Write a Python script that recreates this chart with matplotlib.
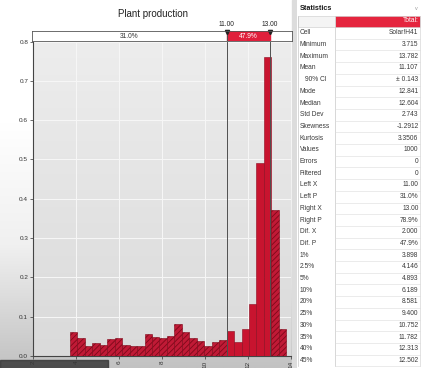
import numpy as np
import matplotlib
matplotlib.use("Agg")
import matplotlib.pyplot as plt
from matplotlib.colors import LinearSegmentedColormap
from matplotlib.patches import Rectangle

plt.rcParams['font.family'] = ['Liberation Sans', 'DejaVu Sans']
plt.rcParams['hatch.linewidth'] = 0.6

# histogram of the simulated output (density per bin)
x_min, x_max = 3.715, 13.782
density = [0.060, 0.045, 0.025, 0.032, 0.029, 0.042, 0.045, 0.029, 0.025, 0.025,
           0.055, 0.049, 0.045, 0.052, 0.081, 0.062, 0.045, 0.038, 0.025, 0.035,
           0.040, 0.063, 0.035, 0.069, 0.132, 0.490, 0.760, 0.372, 0.068]
left_x, right_x = 11.0, 13.0
left_p, mid_p = "31.0%", "47.9%"

x_ticks = [2, 4, 6, 8, 10, 12, 14]
y_ticks = [0.0, 0.1, 0.2, 0.3, 0.4, 0.5, 0.6, 0.7, 0.8]

stat_labels = ['Cell', 'Minimum', 'Maximum', 'Mean', '90% CI', 'Mode', 'Median',
               'Std Dev', 'Skewness', 'Kurtosis', 'Values', 'Errors', 'Filtered',
               'Left X', 'Left P', 'Right X', 'Right P', 'Dif. X', 'Dif. P',
               '1%', '2.5%', '5%', '10%', '20%', '25%', '30%', '35%', '40%', '45%']
stat_values = ['Solar!H41', '3.715', '13.782', '11.107', '\u00b1 0.143', '12.841',
               '12.604', '2.743', '-1.2912', '3.3506', '1000', '0', '0', '11.00',
               '31.0%', '13.00', '78.9%', '2.000', '47.9%', '3.898', '4.146',
               '4.893', '6.189', '8.581', '9.400', '10.752', '11.782', '12.313',
               '12.502']

W, H = 424, 368
fig = plt.figure(figsize=(W / 100, H / 100), dpi=100)
fig.patch.set_facecolor('white')

# background of the chart region (grey gradient)
bg = fig.add_axes([0, 0, 1, 1], zorder=-10)
bg.set_xlim(0, W)
bg.set_ylim(H, 0)
bg.axis('off')
grad = np.linspace(0, 1, 256).reshape(-1, 1)
bg_cmap = LinearSegmentedColormap.from_list('bg', ['#ffffff', '#ffffff', '#f0f0f0', '#c2c2c2'])
bg.imshow(grad, extent=[0, 293, H, 0], aspect='auto', cmap=bg_cmap)
bg.add_patch(Rectangle((292, 0), 5, H, color='#dcdcdc'))
bg.plot([296.5, 296.5], [0, H], color='#b8b8b8', lw=0.6)


def fx(px):
    return px / W


def fy(py):
    return 1 - py / H


# main histogram axes
ax = fig.add_axes([fx(33), fy(356), fx(291) - fx(33), fy(41.5) - fy(356)])
ax.set_xlim(2, 14)
ax.set_ylim(0, 0.8)
pa_cmap = LinearSegmentedColormap.from_list('pa', ['#dadada', '#ededed'])
ax.imshow(grad, extent=[0, 1, 0, 1], transform=ax.transAxes, aspect='auto',
          cmap=pa_cmap, origin='lower', zorder=0)

edges = np.linspace(x_min, x_max, len(density) + 1)
centers = (edges[:-1] + edges[1:]) / 2
widths = np.diff(edges)
inside = (centers > left_x) & (centers < right_x)
ax.bar(edges[:-1][inside], np.array(density)[inside], width=widths[inside],
       align='edge', color='#c8142f', edgecolor='#8c0a1e', linewidth=0.4, zorder=3)
ax.bar(edges[:-1][~inside], np.array(density)[~inside], width=widths[~inside],
       align='edge', color='#c01a36', edgecolor='#7e0819', linewidth=0.4,
       hatch='//////', zorder=3)

ax.axvline(left_x, color='#505050', lw=0.7, zorder=4)
ax.axvline(right_x, color='#505050', lw=0.7, zorder=4)

ax.set_xticks(x_ticks)
ax.set_xticklabels([str(t) for t in x_ticks], rotation=90)
ax.set_yticks(y_ticks)
ax.set_yticklabels(['%.1f' % t for t in y_ticks])
ax.tick_params(labelsize=4.6, colors='#333333', length=2, width=0.5, pad=1.5)
ax.grid(True, color='#f7f7f7', lw=0.7, zorder=1)
ax.set_axisbelow(True)
for s in ['top', 'right']:
    ax.spines[s].set_visible(False)
for s in ['left', 'bottom']:
    ax.spines[s].set_color('#444444')
    ax.spines[s].set_linewidth(0.8)

# delimiter bar above the plot
dl = fig.add_axes([fx(32), fy(41), fx(292) - fx(32), fy(31) - fy(41)])
dl.set_xlim(2, 14)
dl.set_ylim(0, 1)
dl.set_xticks([])
dl.set_yticks([])
dl.set_facecolor('white')
for s in dl.spines.values():
    s.set_color('#555555')
    s.set_linewidth(0.6)
dl.axvspan(left_x, right_x, color='#e0203c')
dl.axvline(left_x, color='#505050', lw=0.7)
dl.text((2 + left_x) / 2, 0.45, left_p, ha='center', va='center', fontsize=4.8, color='#333333')
dl.text((left_x + right_x) / 2, 0.45, mid_p, ha='center', va='center', fontsize=4.8, color='white')
dl.plot([left_x, right_x], [0.92, 0.92], linestyle='none', marker='v', ms=3,
        color='#222222', clip_on=False)

fig.text(fx(226.5), fy(25), '%.2f' % left_x, ha='center', va='center', fontsize=4.8, color='#222222')
fig.text(fx(270), fy(25), '%.2f' % right_x, ha='center', va='center', fontsize=4.8, color='#222222')
fig.text(fx(153), fy(14), 'Plant production', ha='center', va='center', fontsize=7, color='#222222')

# statistics panel
sp = fig.add_axes([fx(297), 0, 1 - fx(297), 1], zorder=5)
sp.set_xlim(297, W)
sp.set_ylim(H, 0)
sp.axis('off')
sp.add_patch(Rectangle((297, 0), W - 297, H, color='white'))
hdr_cmap = LinearSegmentedColormap.from_list('hdr', ['#f6f6f6', '#e2e2e2'])
sp.imshow(grad, extent=[297, W, 15.5, 0], aspect='auto', cmap=hdr_cmap)
sp.text(300, 8.3, 'Statistics', ha='left', va='center', fontsize=5.2, fontweight='bold', color='#1a1a1a')
sp.text(416, 8.3, 'v', ha='center', va='center', fontsize=4, color='#9a9a9a')

sp.add_patch(Rectangle((334.5, 15.5), 85.5, 11.5, facecolor='#e5253e', edgecolor='#c9c9c9', lw=0.4))
sp.add_patch(Rectangle((298, 15.5), 36.5, 11.5, facecolor='#f4f4f4', edgecolor='#c9c9c9', lw=0.4))
sp.text(418.5, 21, 'Total:', ha='right', va='center', fontsize=4.8, color='white')

row_h = 11.7
top = 27.0
n = len(stat_labels)
lab_cmap = LinearSegmentedColormap.from_list('lab', ['#f8f6ea', '#efeacd', '#e2dbb5'])
hgrad = np.linspace(0, 1, 64).reshape(1, -1)
sp.imshow(hgrad, extent=[298, 334.5, top + n * row_h, top], aspect='auto', cmap=lab_cmap)
sp.plot([334.5, 334.5], [top, top + n * row_h], color='#c8c8c8', lw=0.5)
sp.plot([298, 298], [15.5, top + n * row_h], color='#c8c8c8', lw=0.5)
sp.plot([420, 420], [15.5, top + n * row_h], color='#d8d8d8', lw=0.5)
for i, (lab, val) in enumerate(zip(stat_labels, stat_values)):
    yc = top + (i + 0.5) * row_h
    sp.plot([334.5, 420], [top + (i + 1) * row_h] * 2, color='#dcdcdc', lw=0.4)
    xl = 305 if lab == '90% CI' else 300
    sp.text(xl, yc, lab, ha='left', va='center', fontsize=4.8, color='#3a3a3a')
    sp.text(418.5, yc, val, ha='right', va='center', fontsize=4.8, color='#3a3a3a')

# dark overlay in the bottom-left corner of the capture
ov = fig.add_axes([0, 0, 1, 1], zorder=20)
ov.set_xlim(0, W)
ov.set_ylim(H, 0)
ov.axis('off')
ov.add_patch(Rectangle((0, 359.5), 108, 9, color='#383838', alpha=0.85))

fig.savefig('out.png', dpi=100)
